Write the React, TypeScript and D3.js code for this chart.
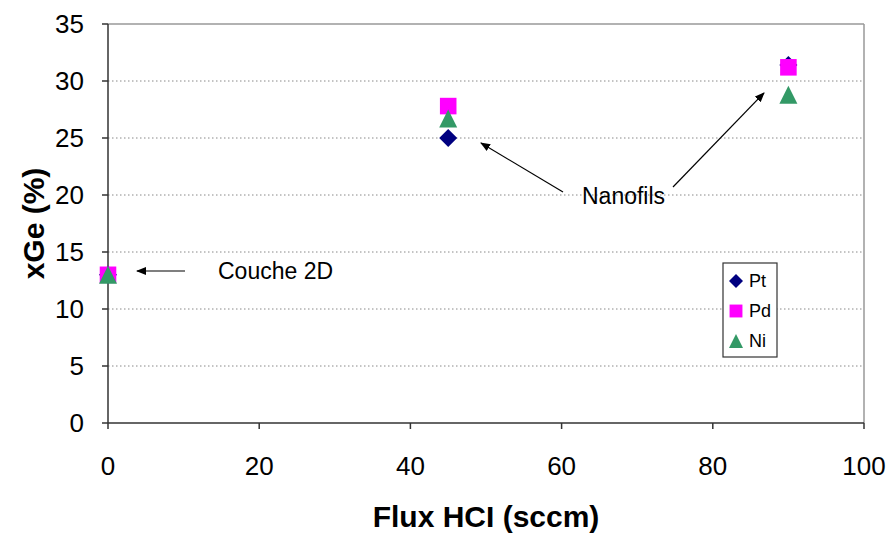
import React from "react";
import * as d3 from "d3";

const fluxValues = [0, 45, 90];
const ptValues = [13, 25, 31.4];
const pdValues = [13, 27.8, 31.2];
const niValues = [13, 26.7, 28.8];
const xTicks = [0, 20, 40, 60, 80, 100];
const yTicks = [0, 5, 10, 15, 20, 25, 30, 35];
const seriesNames = ["Pt", "Pd", "Ni"];
const seriesColors = ["#000080", "#FF00FF", "#339966"];

const W = 894, H = 534;
const M = { left: 108, top: 24, right: 864, bottom: 423 };

function Marker({ kind, x, y, color, s = 9 }: { kind: number; x: number; y: number; color: string; s?: number }) {
  if (kind === 0) {
    return <path d={`M${x},${y - s}L${x + s},${y}L${x},${y + s}L${x - s},${y}Z`} fill={color} />;
  }
  if (kind === 1) {
    const q = s * 0.92;
    return <rect x={x - q} y={y - q} width={2 * q} height={2 * q} fill={color} />;
  }
  return <path d={`M${x},${y - s}L${x + s},${y + s}L${x - s},${y + s}Z`} fill={color} />;
}

export default function App() {
  const x = d3.scaleLinear().domain([0, 100]).range([M.left, M.right]);
  const y = d3.scaleLinear().domain([0, 35]).range([M.bottom, M.top]);
  const series = [ptValues, pdValues, niValues];
  const font = "'Liberation Sans', Arial, sans-serif";

  return (
    <svg width={W} height={H} style={{ position: "absolute", left: 0, top: 0, background: "#fff" }} fontFamily={font}>
      <defs>
        <marker id="ah" viewBox="0 0 10 10" refX="9" refY="5" markerWidth="10" markerHeight="10" markerUnits="userSpaceOnUse" orient="auto">
          <path d="M0,1L10,5L0,9Z" fill="#000" />
        </marker>
      </defs>
      {/* gridlines */}
      {yTicks.filter((t) => t > 0 && t < 35).map((t) => (
        <line key={t} x1={M.left} x2={M.right} y1={y(t)} y2={y(t)} stroke="#888" strokeWidth={1} strokeDasharray="1.5,2.5" />
      ))}
      {/* plot border top/right */}
      <line x1={M.left} x2={M.right} y1={y(35)} y2={y(35)} stroke="#999" strokeWidth={1.5} />
      <line x1={M.right} x2={M.right} y1={y(35)} y2={y(0)} stroke="#999" strokeWidth={1.5} />
      {/* axes */}
      <line x1={M.left} x2={M.left} y1={y(35)} y2={y(0)} stroke="#333" strokeWidth={1.5} />
      <line x1={M.left} x2={M.right} y1={y(0)} y2={y(0)} stroke="#333" strokeWidth={1.5} />
      {yTicks.map((t) => (
        <g key={t}>
          <line x1={M.left - 6} x2={M.left} y1={y(t)} y2={y(t)} stroke="#333" strokeWidth={1.5} />
          <text x={84} y={y(t)} dy="0.36em" textAnchor="end" fontSize={26} fill="#000">{t}</text>
        </g>
      ))}
      {xTicks.map((t) => (
        <g key={t}>
          <line x1={x(t)} x2={x(t)} y1={y(0)} y2={y(0) + 6} stroke="#333" strokeWidth={1.5} />
          <text x={x(t)} y={475} textAnchor="middle" fontSize={26} fill="#000">{t}</text>
        </g>
      ))}
      <text x={486} y={527} textAnchor="middle" fontSize={30} fontWeight="bold" fill="#000">Flux HCI (sccm)</text>
      <text transform={`translate(44,${(M.top + M.bottom) / 2}) rotate(-90)`} textAnchor="middle" fontSize={30} fontWeight="bold" fill="#000">xGe (%)</text>
      {/* data */}
      {series.map((vals, si) =>
        vals.map((v, i) => (
          <Marker key={`${si}-${i}`} kind={si} x={x(fluxValues[i])} y={y(v)} color={seriesColors[si]} />
        ))
      )}
      {/* annotations */}
      <line x1={185} y1={271} x2={137} y2={271} stroke="#000" strokeWidth={1.2} markerEnd="url(#ah)" />
      <text x={218} y={279} fontSize={23} fill="#000">Couche 2D</text>
      <line x1={563} y1={192} x2={481} y2={143} stroke="#000" strokeWidth={1.2} markerEnd="url(#ah)" />
      <line x1={673} y1={187} x2={764} y2={93} stroke="#000" strokeWidth={1.2} markerEnd="url(#ah)" />
      <text x={582} y={204} fontSize={23} fill="#000">Nanofils</text>
      {/* legend */}
      <rect x={723} y={263} width={54} height={94} fill="#fff" stroke="#333" strokeWidth={1.2} />
      {seriesNames.map((n, i) => (
        <g key={n}>
          <Marker kind={i} x={736} y={281 + i * 30} color={seriesColors[i]} s={7} />
          <text x={749} y={281 + i * 30} dy="0.36em" fontSize={18} fill="#000">{n}</text>
        </g>
      ))}
    </svg>
  );
}
